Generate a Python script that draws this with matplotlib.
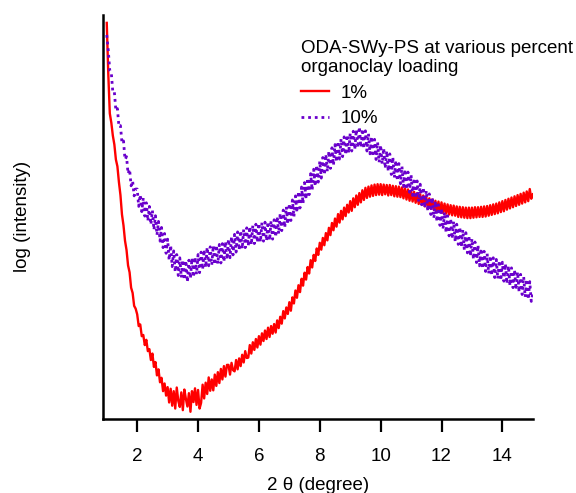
import numpy as np
import matplotlib
matplotlib.use("Agg")
import matplotlib.pyplot as plt

plt.rcParams['font.family'] = ['Liberation Sans', 'DejaVu Sans']

# 2-theta sample positions (degree)
two_theta = np.round(np.arange(1.0, 15.001, 0.05), 2)

# log(intensity), arbitrary units
loading_1pct = [
    98.0, 85.4, 75.6, 73.3, 70.1, 67.9, 64.2, 62.5, 58.6, 55.4, 50.6, 47.9, 44.1, 41.8, 38.0, 36.3, 32.5, 31.2, 28.0, 27.3,
    25.9, 23.0, 23.4, 20.5, 20.8, 18.3, 19.6, 16.8, 17.3, 14.6, 16.2, 12.9, 14.1, 10.8, 12.3, 9.1, 10.2, 6.9, 8.8, 5.8,
    7.9, 4.1, 7.5, 3.3, 6.9, 2.6, 7.8, 4.5, 3.0, 6.6, 2.2, 7.3, 5.0, 3.1, 6.4, 1.8, 6.9, 4.2, 7.6, 3.5,
    7.2, 2.6, 4.0, 8.5, 5.1, 9.0, 6.2, 10.3, 7.0, 9.8, 7.1, 11.0, 8.2, 11.6, 8.9, 12.4, 9.8, 13.1, 10.5, 13.4,
    13.4, 11.0, 13.9, 12.1, 11.8, 14.6, 12.3, 15.0, 13.1, 15.9, 14.0, 16.8, 15.1, 15.2, 18.3, 16.2, 19.0, 17.1, 19.8, 17.7,
    20.5, 18.4, 21.2, 19.3, 21.9, 19.8, 22.6, 20.3, 23.0, 21.1, 23.5, 21.4, 24.4, 22.5, 25.3, 23.6, 26.7, 24.9, 27.6, 26.0,
    28.9, 26.8, 30.1, 28.6, 31.8, 30.0, 33.1, 31.4, 34.7, 33.0, 36.2, 34.5, 37.6, 36.0, 39.3, 37.5, 40.6, 39.1, 42.2, 40.6,
    43.6, 41.9, 44.8, 43.0, 46.0, 44.2, 47.3, 45.5, 48.5, 46.7, 49.6, 47.6, 50.7, 48.6, 51.5, 49.4, 52.3, 50.2, 53.0, 51.1,
    53.9, 51.5, 54.6, 52.4, 55.3, 53.0, 55.9, 53.6, 56.6, 54.2, 57.2, 54.7, 57.5, 55.0, 57.8, 55.2, 58.0, 55.4, 58.1, 55.5,
    58.1, 55.4, 58.0, 55.6, 57.9, 55.3, 57.9, 55.4, 57.7, 55.1, 57.6, 55.0, 57.5, 54.9, 57.3, 54.6, 57.1, 54.3, 56.8, 54.0,
    56.4, 53.8, 56.2, 53.5, 55.9, 53.2, 55.6, 53.0, 55.3, 52.6, 54.9, 52.3, 54.6, 52.0, 54.3, 51.7, 54.0, 51.4, 53.8, 51.2,
    53.6, 51.0, 53.3, 50.8, 53.1, 50.6, 52.9, 50.4, 52.8, 50.3, 52.6, 50.0, 52.5, 49.9, 52.4, 49.8, 52.3, 49.7, 52.3, 49.7,
    52.3, 49.8, 52.4, 49.9, 52.4, 50.0, 52.5, 50.0, 52.6, 50.1, 52.7, 50.3, 52.9, 50.5, 53.1, 50.7, 53.3, 50.9, 53.6, 51.2,
    53.9, 51.4, 54.2, 51.8, 54.5, 52.1, 54.8, 52.4, 55.1, 52.7, 55.4, 53.0, 55.7, 53.3, 56.0, 53.6, 56.3, 53.9, 56.9, 54.5,
    55.6,
]

loading_10pct = [
    95.0, 91.2, 86.1, 85.6, 80.8, 80.9, 76.3, 76.8, 72.4, 72.6, 68.3, 68.8, 64.2, 64.9, 60.7, 61.8, 57.7, 58.9, 55.2, 56.9,
    56.9, 52.6, 55.5, 51.3, 54.7, 50.2, 53.5, 49.0, 52.6, 48.1, 51.6, 46.8, 50.3, 45.5, 48.9, 44.0, 47.4, 42.4, 45.9, 41.0,
    44.5, 39.3, 43.0, 37.7, 41.6, 36.4, 40.7, 35.5, 39.9, 35.0, 39.4, 34.4, 39.2, 33.9, 39.3, 34.8, 39.8, 35.1, 40.1, 35.8,
    40.7, 36.2, 41.3, 37.0, 41.9, 37.5, 42.5, 37.9, 42.6, 38.1, 42.9, 38.2, 43.0, 38.4, 43.2, 38.6, 43.4, 38.9, 43.9, 39.5,
    44.5, 39.9, 45.1, 40.6, 45.7, 41.3, 46.3, 41.8, 46.6, 42.1, 46.9, 42.4, 47.3, 42.8, 47.6, 43.1, 47.9, 43.4, 48.2, 43.7,
    48.4, 43.8, 48.6, 44.0, 48.7, 44.1, 48.8, 44.2, 49.0, 44.5, 49.3, 45.0, 50.1, 45.8, 50.9, 46.6, 51.7, 47.4, 52.5, 48.2,
    53.3, 49.1, 54.2, 50.0, 55.2, 51.1, 56.3, 52.2, 57.4, 53.3, 58.5, 54.4, 59.6, 55.5, 60.7, 56.6, 61.8, 57.6, 62.8, 58.6,
    63.8, 59.6, 64.7, 60.4, 65.5, 61.2, 66.3, 62.0, 67.1, 62.8, 67.9, 63.6, 68.7, 64.3, 69.3, 64.9, 69.8, 65.4, 70.3, 65.8,
    70.7, 66.3, 71.2, 66.7, 71.6, 67.1, 72.3, 67.2, 71.8, 66.9, 71.3, 66.3, 70.6, 65.6, 69.9, 64.9, 69.2, 64.2, 68.5, 63.5,
    67.8, 63.1, 67.0, 62.0, 66.3, 61.3, 65.6, 60.5, 64.8, 59.7, 64.0, 58.9, 63.2, 58.2, 62.5, 57.5, 61.8, 56.8, 61.1, 56.1,
    60.4, 55.3, 59.6, 54.6, 58.9, 53.8, 58.1, 53.0, 57.3, 52.2, 56.5, 51.4, 55.7, 50.6, 54.8, 49.7, 53.9, 48.8, 53.0, 47.9,
    52.1, 47.0, 51.2, 46.1, 50.3, 45.3, 49.6, 44.6, 48.9, 43.9, 48.2, 43.2, 47.5, 42.5, 46.8, 41.8, 46.1, 41.1, 45.4, 40.3,
    44.6, 39.5, 43.8, 38.7, 43.0, 37.9, 42.2, 37.2, 41.5, 36.5, 40.9, 36.0, 40.4, 35.5, 39.9, 35.0, 39.5, 34.7, 39.2, 34.3,
    38.8, 34.1, 38.4, 33.5, 37.9, 33.0, 37.4, 32.5, 36.9, 32.0, 36.4, 31.4, 35.8, 30.8, 35.2, 30.2, 34.6, 29.6, 34.0, 29.1,
    31.2,
]

x_ticks = [2, 4, 6, 8, 10, 12, 14]
series_labels = ["1%", "10%"]
legend_title = "ODA-SWy-PS at various percent\norganoclay loading"

FS = 13.5
fig = plt.figure(figsize=(5.76, 4.93), dpi=100)
ax = fig.add_axes([0.179, 0.150, 0.746, 0.820])

ax.plot(two_theta, loading_1pct, color="#ff0000", lw=1.7, label=series_labels[0])
ax.plot(two_theta, loading_10pct, color="#6a00cc", lw=2.0,
        linestyle=(0, (1.0, 1.4)), label=series_labels[1])

ax.set_xlim(0.88, 15.0)
ax.set_ylim(0, 100)
ax.set_xticks(x_ticks)
ax.set_yticks([])
ax.tick_params(axis='x', direction='out', length=9.5, width=1.6,
               pad=11, labelsize=FS)
for s in ['top', 'right']:
    ax.spines[s].set_visible(False)
for s in ['left', 'bottom']:
    ax.spines[s].set_linewidth(1.8)

ax.set_xlabel("2 \u03b8 (degree)", fontsize=FS, labelpad=9)
ax.set_ylabel("log (intensity)", fontsize=FS, labelpad=52)

leg = ax.legend(title=legend_title, loc='upper left',
                bbox_to_anchor=(0.461, 0.938), frameon=False,
                fontsize=FS, title_fontsize=FS, alignment='left',
                handlelength=1.5, handletextpad=0.6, borderpad=0,
                labelspacing=0.44, borderaxespad=0)

fig.savefig("out.png", dpi=100)
